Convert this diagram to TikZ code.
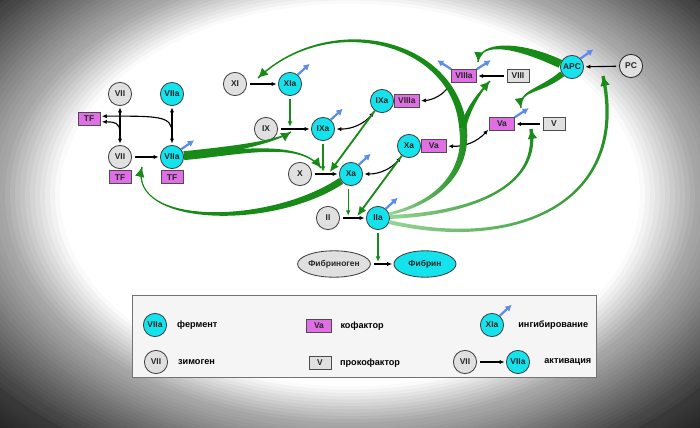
\documentclass[tikz,border=0pt]{standalone}
\usepackage{fontspec}
\setmainfont{Liberation Sans}
\usetikzlibrary{positioning,shapes.geometric,arrows.meta,calc}

\definecolor{enzcyan}{RGB}{20,226,236}
\definecolor{zymgray}{RGB}{224,224,224}
\definecolor{cofmag}{RGB}{224,110,228}
\definecolor{actgreen}{RGB}{24,138,24}
\definecolor{palegreen}{RGB}{150,212,150}
\definecolor{inhblue}{RGB}{92,140,236}

% tapered green band: start, control, control, end, half width at start and at end
\newcommand{\gband}[7][fill=actgreen]{%
  \path[#1] ($(#2)!#6!90:(#3)$) .. controls ($(#3)!#6!90:(#4)$) and ($(#4)!#7!90:(#5)$) .. ($(#5)!#7!-90:(#4)$)
    -- ($(#5)!#7!90:(#4)$) .. controls ($(#4)!#7!-90:(#5)$) and ($(#3)!#6!-90:(#4)$) .. ($(#2)!#6!-90:(#3)$) -- cycle;}

\begin{document}
\begin{tikzpicture}[
    x=0.025cm, y=-0.025cm,
    enzyme/.style={circle, draw=black!75, line width=0.6pt, fill=enzcyan, minimum size=0.58cm,
      inner sep=0pt, text=black!85, font=\fontsize{6}{7}\selectfont\bfseries},
    zymogen/.style={enzyme, fill=zymgray},
    cofactor/.style={rectangle, draw=black!70, line width=0.6pt, fill=cofmag, minimum width=0.62cm,
      minimum height=0.32cm, inner xsep=2pt, inner ysep=1pt, text=black!85,
      font=\fontsize{6}{7}\selectfont\bfseries},
    procofactor/.style={cofactor, fill=zymgray, minimum width=0.55cm},
    protein/.style={ellipse, draw=black!75, line width=0.6pt, fill=zymgray, minimum width=1.55cm,
      minimum height=0.66cm, inner sep=0pt, text=black!85, font=\fontsize{6}{7}\selectfont\bfseries},
    act/.style={-{Latex[length=3.5pt,width=3pt]}, line width=0.8pt, shorten <=2pt, shorten >=1pt},
    bind/.style={{Latex[length=3.5pt,width=3pt]}-{Latex[length=3.5pt,width=3pt]}, line width=0.8pt,
      shorten <=1pt, shorten >=1pt},
    gthin/.style={-{Latex[length=4pt,width=3.5pt]}, draw=actgreen, line width=0.9pt, shorten <=2pt},
    gcplx/.style={-{Latex[length=7pt,width=6pt]}, draw=actgreen, line width=1.3pt},
    gtip/.style={-{Latex[length=7pt,width=7pt]}, draw=actgreen, line width=1pt},
    inhib/.style={-{Latex[length=4.5pt,width=5pt]}, draw=inhblue, line width=1.6pt},
    legtext/.style={anchor=west, inner sep=0pt, font=\fontsize{6.5}{8}\selectfont\bfseries}
  ]

  % background vignette
  \useasboundingbox (0,0) rectangle (700,428);
  \begin{scope}
    \clip (0,0) rectangle (700,428);
    \fill[black!90] (0,0) rectangle (700,428);
    \foreach \s in {540,535,...,285} {
      \pgfmathtruncatemacro{\shadeval}{\s>=460 ? 78+(\s-460)*0.2 : (\s>=350 ? 35+(\s-350)*0.39 : max(0,(\s-290)*0.583))}
      \fill[black!\shadeval] (350,195) ellipse ({\s} and {0.66*\s});
    }
  \end{scope}

  % extrinsic pathway
  \node[zymogen] (vii) at (120,94) {VII};
  \node[enzyme] (viia) at (172,94) {VIIa};
  \node[cofactor, minimum width=0.55cm] (tf) at (89,119) {TF};
  \node[zymogen] (viib) at (120,157) {VII};
  \node[cofactor, minimum width=0.55cm, below=1pt of viib] (tfb) {TF};
  \node[enzyme] (viiab) at (172,157) {VIIa};
  \node[cofactor, minimum width=0.55cm, below=1pt of viiab] (tfab) {TF};

  % intrinsic and common pathway
  \node[zymogen] (xi) at (235,84) {XI};
  \node[enzyme] (xia) at (290,84) {XIa};
  \node[zymogen] (ix) at (266,129) {IX};
  \node[enzyme] (ixa) at (323,129) {IXa};
  \node[enzyme] (cixa) at (382,101) {IXa};
  \node[cofactor, right=0pt of cixa] (cviiia) {VIIIa};
  \node[zymogen] (x) at (300,174) {X};
  \node[enzyme] (xa) at (351,174) {Xa};
  \node[enzyme] (cxa) at (409,146) {Xa};
  \node[cofactor, right=0pt of cxa] (cva) {Va};
  \node[zymogen] (ii) at (328,218) {II};
  \node[enzyme] (iia) at (378,218) {IIa};
  \node[protein] (fbg) at (334,264) {Фибриноген};
  \node[protein, fill=enzcyan] (fbn) at (425,264) {Фибрин};

  % cofactors and protein C
  \node[cofactor] (viiia) at (464,76) {VIIIa};
  \node[procofactor] (viii) at (518,76) {VIII};
  \node[cofactor] (va) at (502,124) {Va};
  \node[procofactor] (v) at (554,124) {V};
  \node[enzyme] (apc) at (572,67) {APC};
  \node[zymogen, draw=black!85] (pc) at (631,66) {PC};

  % activations
  \draw[act] (viib) -- (viiab);
  \draw[act] (xi) -- (xia);
  \draw[act] (ix) -- (ixa);
  \draw[act] (x) -- (xa);
  \draw[act] (ii) -- (iia);
  \draw[act] (fbg) -- (fbn);
  \draw[act] (viii) -- (viiia);
  \draw[act] (v) -- (va);
  \draw[act] (pc) -- (apc);

  % binding
  \draw[bind] (vii) -- (viib);
  \draw[bind] (viia) -- (viiab);
  \coordinate (tfup) at (172,133);
  \coordinate (tflo) at (120,133);
  \draw[act, shorten <=0pt] (tfup) .. controls (172,116) and (160,116) .. ([yshift=2pt]tf.east);
  \draw[act, shorten <=0pt] (tflo) .. controls (120,122) and (114,122) .. ([yshift=-2pt]tf.east);
  \draw[bind] (ixa.east) to[bend right=25] (cixa.235);
  \draw[bind] (cviiia.east) to[bend right=25] (viiia.south west);
  \draw[bind] (xa.east) to[bend right=25] (cxa.235);
  \draw[bind] (cva.east) to[bend right=25] (va.200);

  % enzymes acting on the activations
  \coordinate (ixm) at ($(ix.east)!0.5!(ixa.west)$);
  \coordinate (xm) at ($(x.east)!0.5!(xa.west)$);
  \coordinate (iim) at ($(ii.east)!0.5!(iia.west)$);
  \coordinate (fbm) at ($(fbg.east)!0.5!(fbn.west)$);
  \draw[gthin, shorten >=1.5pt] (xia) -- (xia |- ixm);
  \draw[gthin, shorten >=1.5pt] (ixa) -- (ixa |- xm);
  \draw[gthin, shorten >=1.5pt] ([xshift=-2pt]xa.south) -- ([xshift=-2pt]xa.south |- iim);
  \draw[gthin, shorten >=1.5pt] (iia) -- (iia |- fbm);
  \draw[gcplx, shorten >=1.5pt] (cixa) -- ([xshift=2pt]xm);
  \draw[gcplx, shorten >=1.5pt] (cxa) -- ([xshift=2pt]iim);

  % ends of the thick arrows
  \coordinate (t-vii) at (142,167);
  \coordinate (t-ix) at (291,132);
  \coordinate (t-x) at (321,168);
  \coordinate (t-xi) at (258,78);
  \coordinate (t-viii) at (490,81);
  \coordinate (t-v) at (531,129);
  \coordinate (t-pc) at (603,76);
  \coordinate (t-viiia) at (478,62);
  \coordinate (t-va) at (521,108);
  \coordinate (fork) at (463,128);

  % VIIa and Xa
  \gband{viiab.10}{230,150}{275,142}{t-ix}{2.6pt}{0.5pt}
  \gband{viiab.0}{240,152}{300,140}{t-x}{2.2pt}{0.5pt}
  \gband{xa.215}{270,228}{128,226}{t-vii}{2.5pt}{0.5pt}
  \draw[gtip] ($(t-ix)!5pt!(275,142)$) -- (t-ix);
  \draw[gtip] ($(t-x)!5pt!(300,140)$) -- (t-x);
  \draw[gtip] ($(t-vii)!5pt!(128,226)$) -- (t-vii);

  % thrombin feedback
  \gband[left color=palegreen, right color=actgreen]{fork}{468,170}{440,202}{iia.20}{2.8pt}{1pt}
  \gband{fork}{455,40}{330,10}{t-xi}{2.8pt}{0.5pt}
  \gband{fork}{468,108}{480,92}{t-viii}{2pt}{0.5pt}
  \gband[left color=palegreen, right color=actgreen]{iia.5}{465,214}{540,190}{t-v}{1.4pt}{1.2pt}
  \gband[left color=palegreen, right color=actgreen]{iia.340}{520,252}{630,200}{t-pc}{1.4pt}{1.2pt}
  \draw[gtip] ($(t-xi)!5pt!(330,10)$) -- (t-xi);
  \draw[gtip] ($(t-viii)!5pt!(480,92)$) -- (t-viii);
  \draw[gtip] ($(t-v)!5pt!(540,190)$) -- (t-v);
  \draw[gtip] ($(t-pc)!5pt!(630,200)$) -- (t-pc);

  % APC
  \gband{apc.165}{520,45}{480,40}{t-viiia}{3pt}{0.5pt}
  \gband{apc.215}{540,92}{518,90}{t-va}{2.2pt}{0.5pt}
  \draw[gtip] ($(t-viiia)!5pt!(480,40)$) -- (t-viiia);
  \draw[gtip] ($(t-va)!5pt!(518,90)$) -- (t-va);

  % inhibition marks
  \draw[inhib] (viiab.40) -- ++(13,-9);
  \draw[inhib] (xia.50) -- ++(12,-11);
  \draw[inhib] (ixa.50) -- ++(12,-11);
  \draw[inhib] (xa.50) -- ++(12,-11);
  \draw[inhib] (iia.50) -- ++(12,-11);
  \draw[inhib] (viiia.north west) -- ++(-14,-9);
  \draw[inhib] (viiia.north east) -- ++(14,-9);
  \draw[inhib] (va.north east) -- ++(14,-9);
  \draw[inhib] (apc.45) -- ++(13,-9);

  % legend
  \draw[draw=black!55, fill=white!96!black, line width=0.6pt] (132,295) rectangle (596,377);
  \node[enzyme] (l-enz) at (155,325) {VIIa};
  \node[legtext, right=7pt of l-enz] (l-enz-t) {фермент};
  \node[zymogen] (l-zym) at (156,362) {VII};
  \node[legtext, right=7pt of l-zym] (l-zym-t) {зимоген};
  \node[cofactor] (l-cof) at (319,326) {Va};
  \node[legtext, right=6pt of l-cof] (l-cof-t) {кофактор};
  \node[procofactor] (l-pro) at (320,363) {V};
  \node[legtext, right=6pt of l-pro] (l-pro-t) {прокофактор};
  \node[enzyme] (l-inh) at (492,325) {XIa};
  \draw[inhib] (l-inh.50) -- ++(12,-11);
  \node[legtext, right=10pt of l-inh] (l-inh-t) {ингибирование};
  \node[zymogen] (l-act1) at (465,362) {VII};
  \node[enzyme] (l-act2) at (518,362) {VIIa};
  \draw[act] (l-act1) -- (l-act2);
  \node[legtext, right=10pt of l-act2] (l-act-t) {активация};

\end{tikzpicture}
\end{document}
